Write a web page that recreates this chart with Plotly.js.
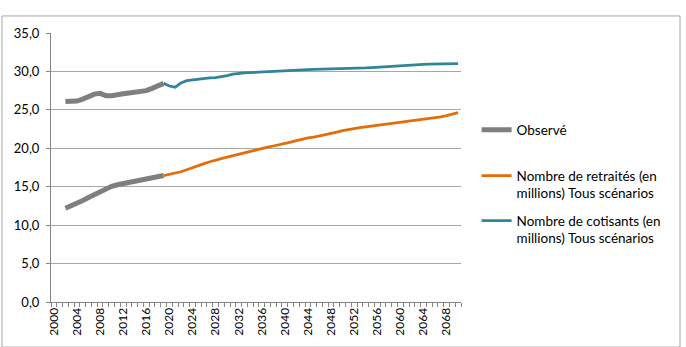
<!DOCTYPE html>
<html>
<head>
<meta charset="utf-8">
<script src="https://cdn.plot.ly/plotly-3.0.1.min.js"></script>
<style>
  html, body { margin: 0; padding: 0; background: #ffffff; }
  #chart { width: 686px; height: 347px; }
</style>
</head>
<body>
<div id="chart"></div>
<script>
// Observed years (2002-2019)
const obsYears = [2002, 2003, 2004, 2005, 2006, 2007, 2008, 2009, 2010, 2011,
                  2012, 2013, 2014, 2015, 2016, 2017, 2018, 2019];
// Observed contributors (millions)
const obsCotisants = [26.1, 26.1, 26.15, 26.4, 26.75, 27.05, 27.15, 26.85, 26.85, 27.05,
                      27.1, 27.2, 27.3, 27.4, 27.5, 27.8, 28.1, 28.45];
// Observed retirees (millions)
const obsRetraites = [12.2, 12.5, 12.85, 13.2, 13.6, 14.0, 14.4, 14.75, 15.05, 15.25,
                      15.4, 15.6, 15.8, 15.95, 16.05, 16.15, 16.3, 16.45];

// Projection years (2019-2070)
const projYears = [];
for (let y = 2019; y <= 2070; y++) projYears.push(y);

// Projected retirees (millions), all scenarios
const projRetraites = [16.45, 16.6, 16.75, 16.95, 17.2, 17.5, 17.75, 18.0, 18.25, 18.5,
                       18.65, 18.85, 19.05, 19.25, 19.45, 19.6, 19.8, 20.0, 20.15, 20.3,
                       20.45, 20.6, 20.8, 21.0, 21.2, 21.35, 21.45, 21.6, 21.8, 21.95,
                       22.1, 22.3, 22.45, 22.6, 22.7, 22.8, 22.9, 23.0, 23.1, 23.2,
                       23.3, 23.4, 23.45, 23.55, 23.65, 23.75, 23.85, 23.95, 24.1, 24.25,
                       24.45, 24.65];
// Projected contributors (millions), all scenarios
const projCotisants = [28.45, 28.1, 27.95, 28.5, 28.8, 28.9, 28.95, 29.05, 29.15, 29.2,
                       29.3, 29.45, 29.65, 29.75, 29.8, 29.85, 29.9, 29.95, 30.0, 30.03,
                       30.07, 30.15, 30.18, 30.2, 30.22, 30.25, 30.26, 30.27, 30.28, 30.3,
                       30.31, 30.33, 30.35, 30.37, 30.4, 30.45, 30.5, 30.55, 30.62, 30.7,
                       30.75, 30.8, 30.85, 30.88, 30.9, 30.93, 30.95, 30.97, 30.98, 31.0,
                       31.02, 31.03];

// Labelled years on the x axis
const xTickYears = [];
for (let y = 2000; y <= 2068; y += 4) xTickYears.push(y);

const GREY = '#7f7f7f';
const ORANGE = '#e46c0a';
const TEAL = '#31849b';
const FONT = 'Lato, "Open Sans", "Liberation Sans", sans-serif';
const LEGEND_FONT = { family: FONT, size: 13.5, color: '#000000' };

const traces = [
  {
    x: obsYears, y: obsCotisants, type: 'scatter', mode: 'lines',
    name: 'Observé', legend: 'legend', legendgroup: 'obs', showlegend: true,
    line: { color: GREY, width: 5 }
  },
  {
    x: obsYears, y: obsRetraites, type: 'scatter', mode: 'lines',
    name: 'Observé', legend: 'legend', legendgroup: 'obs', showlegend: false,
    line: { color: GREY, width: 5 }
  },
  {
    x: projYears, y: projRetraites, type: 'scatter', mode: 'lines',
    name: 'Nombre de retraités (en<br>millions) Tous scénarios',
    legend: 'legend2', legendgroup: 'ret',
    line: { color: ORANGE, width: 2.75 }
  },
  {
    x: projYears, y: projCotisants, type: 'scatter', mode: 'lines',
    name: 'Nombre de cotisants (en<br>millions) Tous scénarios',
    legend: 'legend2', legendgroup: 'cot',
    line: { color: TEAL, width: 2.75 }
  }
];

const layout = {
  width: 686, height: 347,
  margin: { l: 51, r: 225, t: 33, b: 45, pad: 0 },
  paper_bgcolor: '#ffffff', plot_bgcolor: '#ffffff',
  separators: ',.',
  font: { family: FONT, size: 13, color: '#000000' },
  showlegend: true,
  legend: {
    x: 1.038, xanchor: 'left', y: 0.6975, yanchor: 'top',
    font: LEGEND_FONT, itemwidth: 30, bgcolor: 'rgba(0,0,0,0)', borderwidth: 0
  },
  legend2: {
    x: 1.038, xanchor: 'left', y: 0.527, yanchor: 'top',
    traceorder: 'grouped', tracegroupgap: 7, valign: 'top',
    font: LEGEND_FONT, itemwidth: 30, bgcolor: 'rgba(0,0,0,0)', borderwidth: 0
  },
  xaxis: {
    type: 'linear', range: [1999.5, 2070.5], fixedrange: true,
    tickmode: 'array', tickvals: xTickYears, ticktext: xTickYears.map(String),
    tickangle: -90, ticks: '', showgrid: false, zeroline: false,
    showline: true, linecolor: '#868686', linewidth: 1,
    tickfont: { family: FONT, size: 12, color: '#000000' },
    minor: { tick0: 1999.5, dtick: 1, ticks: 'outside', ticklen: 4, tickcolor: '#868686', tickwidth: 1, showgrid: false }
  },
  yaxis: {
    range: [0, 35], dtick: 5, tick0: 0, tickformat: '.1f', fixedrange: true,
    showgrid: true, gridcolor: '#a6a6a6', gridwidth: 1, zeroline: false,
    showline: true, linecolor: '#868686', linewidth: 1,
    ticks: 'outside', ticklen: 4, tickcolor: '#868686', ticklabelstandoff: 4,
    tickfont: { family: FONT, size: 13, color: '#000000' }
  },
  shapes: [
    {
      type: 'rect', xref: 'paper', yref: 'paper',
      x0: -49 / 410, x1: 629 / 410, y0: -45 / 268.5, y1: 1 + 17 / 268.5,
      line: { color: '#a6a6a6', width: 1 }, fillcolor: 'rgba(0,0,0,0)', layer: 'below'
    }
  ]
};

Plotly.newPlot('chart', traces, layout, { displayModeBar: false, staticPlot: true });
</script>
</body>
</html>
